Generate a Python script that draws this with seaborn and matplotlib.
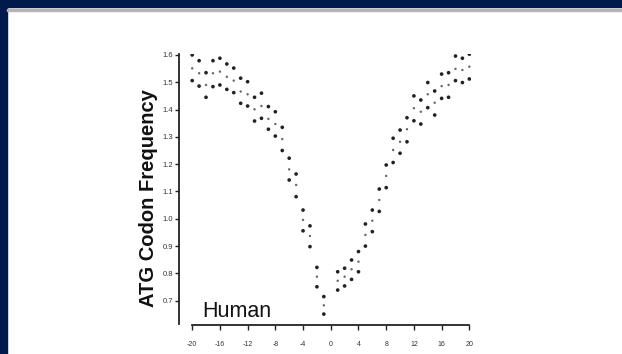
import matplotlib.pyplot as plt
import seaborn as sns
import pandas as pd
from matplotlib.patches import Rectangle

# positions relative to the start codon (0 is not plotted)
positions = list(range(-20, 0)) + list(range(1, 21))

upper = [1.600, 1.579, 1.535, 1.579, 1.588, 1.567, 1.552, 1.515, 1.502, 1.445,
         1.460, 1.411, 1.392, 1.335, 1.222, 1.164, 1.032, 0.974, 0.822, 0.715,
         0.806, 0.819, 0.849, 0.880, 0.981, 1.032, 1.109, 1.197, 1.295, 1.325,
         1.370, 1.450, 1.435, 1.499, 1.468, 1.530, 1.535, 1.596, 1.588, 1.603]
middle = [1.551, 1.533, 1.490, 1.533, 1.539, 1.520, 1.506, 1.466, 1.456, 1.401,
          1.413, 1.366, 1.347, 1.292, 1.181, 1.124, 0.996, 0.937, 0.788, 0.683,
          0.773, 0.788, 0.815, 0.843, 0.941, 0.993, 1.069, 1.157, 1.252, 1.282,
          1.328, 1.405, 1.392, 1.456, 1.425, 1.486, 1.490, 1.549, 1.545, 1.557]
lower = [1.506, 1.486, 1.445, 1.484, 1.490, 1.474, 1.462, 1.423, 1.413, 1.358,
         1.368, 1.328, 1.303, 1.250, 1.142, 1.081, 0.956, 0.898, 0.751, 0.651,
         0.739, 0.754, 0.778, 0.806, 0.900, 0.953, 1.027, 1.114, 1.206, 1.240,
         1.282, 1.359, 1.347, 1.407, 1.380, 1.441, 1.445, 1.506, 1.499, 1.512]

x_ticks = [-20, -16, -12, -8, -4, 0, 4, 8, 12, 16, 20]
x_labels = ["-20", "-16", "-12", "-8", "-4", "0", "4", "8", "12", "16", "20"]
y_ticks = [0.7, 0.8, 0.9, 1.0, 1.1, 1.2, 1.3, 1.4, 1.5, 1.6]
y_labels = ["0.7", "0.8", "0.9", "1.0", "1.1", "1.2", "1.3", "1.4", "1.5", "1.6"]

df = pd.DataFrame({
    "position": positions * 3,
    "frequency": upper + middle + lower,
    "series": ["upper"] * 40 + ["middle"] * 40 + ["lower"] * 40,
})

sns.set_style("white")
plt.rcParams["font.family"] = ["Liberation Sans", "DejaVu Sans"]

fig = plt.figure(figsize=(6.22, 3.54), dpi=100)

# slide frame: navy bars on the left and top, thin grey rule
navy = "#001a4c"
fig.add_artist(Rectangle((0, 0), 7 / 622, 1, transform=fig.transFigure, color=navy, zorder=5))
fig.add_artist(Rectangle((0, 1 - 7 / 354), 1, 7 / 354, transform=fig.transFigure, color=navy, zorder=5))
fig.add_artist(Rectangle((7 / 622, 1 - 10.8 / 354), 1, 1.6 / 354, transform=fig.transFigure,
                         color="#b4b4b4", zorder=5))

ax = fig.add_axes([0.2878, 0.0850, 0.469, 0.7636])
sns.scatterplot(data=df, x="position", y="frequency", hue="series", size="series",
                palette={"upper": "#222222", "middle": "#666666", "lower": "#222222"},
                sizes={"upper": 7, "middle": 3, "lower": 7},
                linewidth=0, legend=False, ax=ax)

ax.set_xlim(-21.9, 20.2)
ax.set_ylim(0.615, 1.605)
ax.set_xticks(x_ticks)
ax.set_xticklabels(x_labels)
ax.set_yticks(y_ticks)
ax.set_yticklabels(y_labels)
ax.set_xlabel("")
ax.set_ylabel("")

sns.despine(ax=ax)
for side in ["left", "bottom"]:
    ax.spines[side].set_color("#222222")
    ax.spines[side].set_linewidth(1.3)
ax.spines["bottom"].set_bounds(-20, 20)
ax.spines["bottom"].set_position(("outward", 1))

ax.tick_params(axis="x", bottom=True, direction="out", length=3.5, width=1.0, pad=8,
               labelsize=5, labelcolor="#333333", color="#222222")
ax.tick_params(axis="y", left=True, direction="out", length=3, width=1.0, pad=1,
               labelsize=5.5, labelcolor="#333333", color="#222222")

ax.text(-18.6, 0.640, "Human", fontsize=15.5, color="#111111", ha="left", va="baseline")

fig.text(148 / 622, 1 - 198.5 / 354, "ATG Codon Frequency", rotation=90,
         fontsize=14.5, fontweight="bold", color="#111111", ha="center", va="center")

plt.savefig("out.png", dpi=100)
